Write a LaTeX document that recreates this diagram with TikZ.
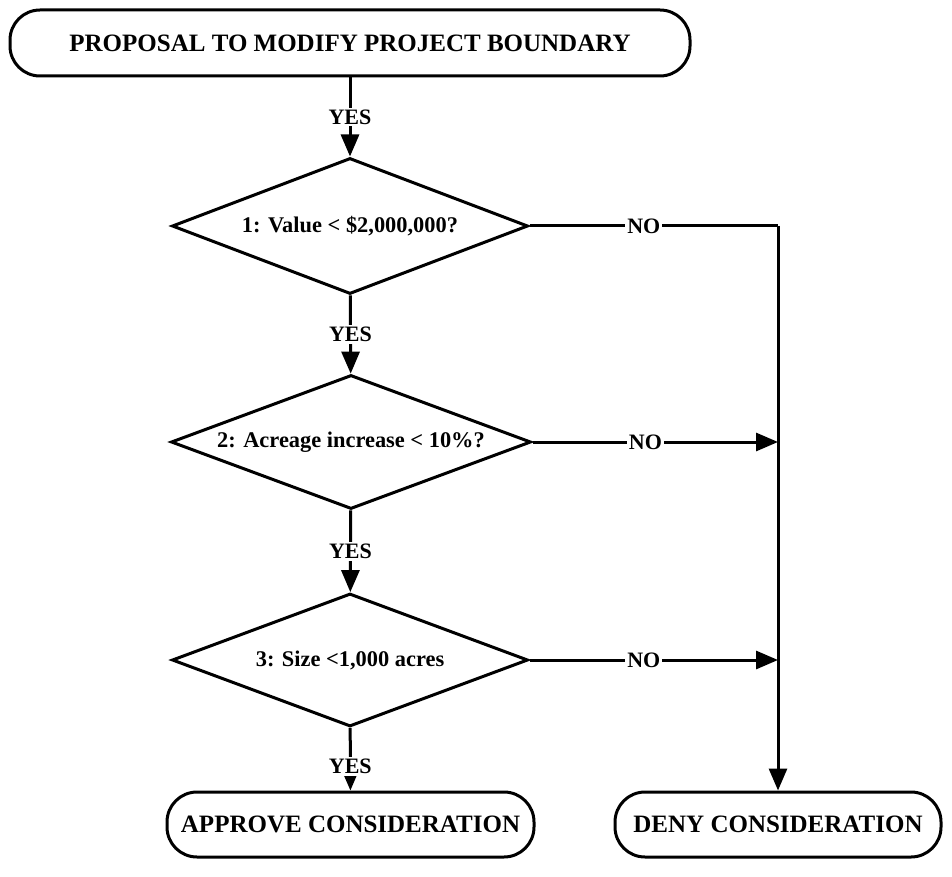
\documentclass[tikz,border=0pt]{standalone}
\usepackage{fontspec}
\setmainfont{Liberation Serif}
\usetikzlibrary{shapes.geometric,arrows.meta}
\tikzset{
  term/.style={draw, line width=3pt, rounded corners=30pt, inner sep=0pt,
    font=\bfseries\fontsize{25}{29}\selectfont},
  decide/.style={draw, diamond, line width=3pt, aspect=2.6, inner sep=0pt,
    font=\bfseries\fontsize{22.4}{26}\selectfont},
  lbl/.style={fill=white, inner sep=2pt, font=\bfseries\fontsize{22}{26}\selectfont},
  conn/.style={line width=3pt},
  arr/.style={line width=3pt, -{Triangle[length=22pt,width=18pt]}}
}
\begin{document}
\begin{tikzpicture}[x=1pt,y=-1pt]
\useasboundingbox (0,0) rectangle (952,877);
\node[term, minimum width=680pt, minimum height=66pt] (start) at (350,43) {PROPOSAL TO MODIFY PROJECT BOUNDARY};
\node[decide, minimum width=356pt, minimum height=136pt] (d1) at (350,226) {1: Value < \$2,000,000?};
\node[decide, minimum width=360pt, minimum height=134pt] (d2) at (351,442) {2: Acreage increase < 10\%?};
\node[decide, minimum width=356pt, minimum height=133pt] (d3) at (350,660) {3: Size <1,000 acres};
\node[term, minimum width=367pt, minimum height=65pt] (approve) at (350.5,824.5) {APPROVE CONSIDERATION};
\node[term, minimum width=326pt, minimum height=65pt] (deny) at (778,824.5) {DENY CONSIDERATION};
\coordinate (j1) at (778,226);
\coordinate (j2) at (778,442);
\coordinate (j3) at (778,660);
\draw[arr] (start) -- node[lbl]{YES} (d1);
\draw[arr] (d1) -- node[lbl]{YES} (d2);
\draw[arr] (d2) -- node[lbl]{YES} (d3);
\draw[arr] (d3) -- node[lbl, pos=0.62]{YES} (approve);
\draw[conn] (d1.east) -- node[lbl, pos=0.46]{NO} (j1);
\draw[arr] (j1) -- (deny.north);
\draw[arr] (d2.east) -- node[lbl, pos=0.46]{NO} (j2);
\draw[arr] (d3.east) -- node[lbl, pos=0.46]{NO} (j3);
\end{tikzpicture}
\end{document}
